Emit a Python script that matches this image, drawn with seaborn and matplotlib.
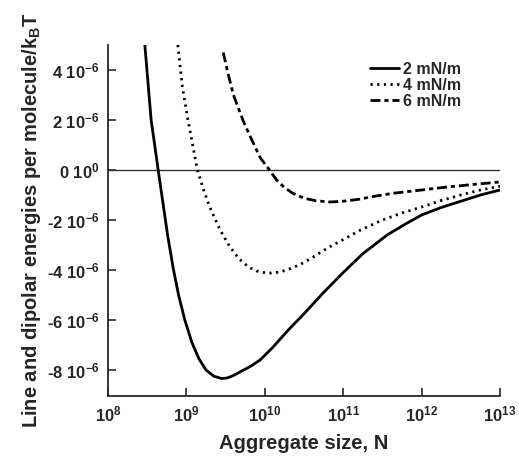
import numpy as np
import pandas as pd
import seaborn as sns
import matplotlib.pyplot as plt

# values: log10(N) and energy in units of 1e-6 kT
logn_2 = [8.47, 8.51, 8.55, 8.60, 8.64, 8.70, 8.76, 8.83, 8.90, 8.98, 9.07, 9.16, 9.25,
          9.35, 9.45, 9.52, 9.60, 9.70, 9.82, 9.94, 10.1, 10.3, 10.5, 10.75, 11.0, 11.25,
          11.56, 11.8, 12.0, 12.25, 12.5, 12.75, 13.0]
e_2 = [5.0, 3.5, 2.0, 0.9, 0.0, -1.3, -2.6, -3.9, -5.0, -6.0, -6.9, -7.55, -8.0,
       -8.25, -8.34, -8.32, -8.22, -8.05, -7.85, -7.6, -7.1, -6.4, -5.75, -4.9, -4.1, -3.35,
       -2.6, -2.15, -1.8, -1.5, -1.25, -1.0, -0.8]

logn_4 = [8.89, 8.95, 9.02, 9.08, 9.14, 9.22, 9.30, 9.43, 9.55, 9.67, 9.80, 9.92, 10.05,
          10.2, 10.35, 10.5, 10.65, 10.8, 11.05, 11.21, 11.5, 11.75, 12.0, 12.25, 12.5,
          12.75, 13.0]
e_4 = [5.0, 3.3, 2.0, 1.0, 0.0, -0.8, -1.5, -2.4, -3.05, -3.55, -3.9, -4.07, -4.13,
       -4.08, -3.92, -3.7, -3.42, -3.12, -2.7, -2.42, -2.0, -1.72, -1.48, -1.22, -1.0,
       -0.8, -0.65]

logn_6 = [9.47, 9.52, 9.60, 9.72, 9.82, 9.94, 10.06, 10.15, 10.25, 10.35, 10.5, 10.65,
          10.83, 11.0, 11.2, 11.4, 11.64, 12.0, 12.3, 12.65, 13.0]
e_6 = [4.7, 4.0, 3.0, 2.0, 1.3, 0.5, 0.0, -0.4, -0.7, -0.92, -1.13, -1.23,
       -1.28, -1.25, -1.17, -1.05, -0.93, -0.8, -0.69, -0.58, -0.48]

labels = ["2 mN/m", "4 mN/m", "6 mN/m"]

frames = []
for lab, ln, e in zip(labels, [logn_2, logn_4, logn_6], [e_2, e_4, e_6]):
    frames.append(pd.DataFrame({"N": 10.0 ** np.array(ln),
                                "E": np.array(e) * 1e-6,
                                "tension": lab}))
df = pd.concat(frames, ignore_index=True)

sns.set_style("ticks")
plt.rcParams["font.family"] = ["Liberation Sans", "DejaVu Sans"]
plt.rcParams["font.weight"] = "bold"
plt.rcParams["mathtext.fontset"] = "custom"
plt.rcParams["mathtext.rm"] = "Liberation Sans:bold"
plt.rcParams["mathtext.bf"] = "Liberation Sans:bold"
plt.rcParams["mathtext.it"] = "Liberation Sans:bold"
plt.rcParams["mathtext.default"] = "bf"

fig = plt.figure(figsize=(5.19, 4.62), dpi=100)
ax = fig.add_axes([108 / 519, 1 - 396 / 462, 392 / 519, 351 / 462])

ax.axhline(0, color="#333333", lw=1.0)

sns.lineplot(data=df, x="N", y="E", hue="tension", style="tension",
             palette=["black"] * 3,
             dashes={"2 mN/m": "", "4 mN/m": (0.8, 1.6), "6 mN/m": (3.6, 1.4, 1.5, 1.4)},
             lw=2.0, sort=False, estimator=None, ax=ax)

ax.set_xscale("log")
ax.set_xlim(1e8, 1e13)
ax.set_ylim(-9.04e-6, 5e-6)
ax.set_xticks([10.0 ** k for k in range(8, 14)])
ax.set_xticklabels([r"10$^{%d}$" % k for k in range(8, 14)])
ax.minorticks_off()
yt = [-8, -6, -4, -2, 0, 2, 4]
ax.set_yticks([v * 1e-6 for v in yt])
ax.set_yticklabels([(r"%d 10$^{-6}$" % v) if v != 0 else r"0 10$^{0}$" for v in yt])
ax.tick_params(direction="in", length=6, width=1.2, labelsize=12, pad=6)

for s in ["top", "right"]:
    ax.spines[s].set_visible(False)
for s in ["left", "bottom"]:
    ax.spines[s].set_linewidth(1.3)

ax.set_xlabel("Aggregate size, N", fontsize=14.5, fontweight="bold", labelpad=7)
ax.set_ylabel(r"Line and dipolar energies per molecule/k$_{B}$T", fontsize=14.5,
              fontweight="bold", labelpad=3)

leg = ax.legend(loc="upper left", bbox_to_anchor=(262 / 392, 1 - 17 / 351), frameon=False,
                fontsize=11.5, handlelength=1.8, handletextpad=0.25, labelspacing=0.05,
                borderpad=0, borderaxespad=0)
for t in leg.get_texts():
    t.set_fontweight("bold")

fig.savefig("out.png", dpi=100)
